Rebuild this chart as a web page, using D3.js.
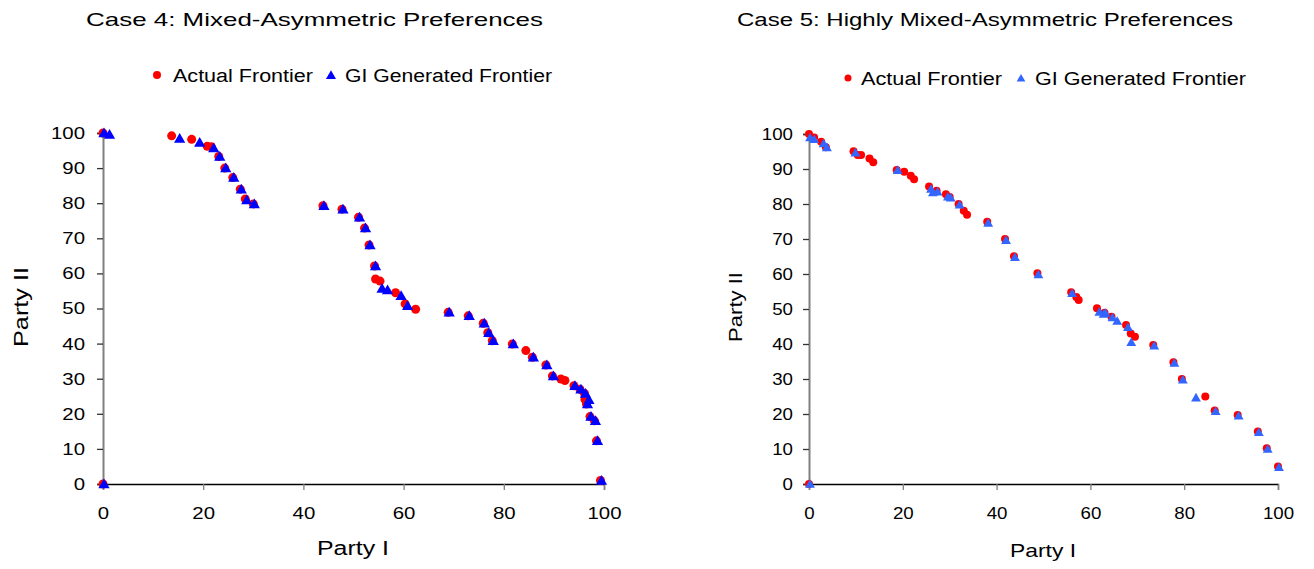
<!DOCTYPE html>
<html><head><meta charset="utf-8">
<script src="https://cdn.jsdelivr.net/npm/d3@7"></script>
<style>
html,body{margin:0;padding:0;background:#fff;}
svg{display:block;font-family:"Liberation Sans",Arial,sans-serif;}
</style></head>
<body><svg id="c" width="1314" height="569"></svg>
<script>
// ---- Data ----
const xTicks = [0, 20, 40, 60, 80, 100];
const yTicks = [0, 10, 20, 30, 40, 50, 60, 70, 80, 90, 100];
const legendLabels = ["Actual Frontier", "GI Generated Frontier"];
const titles = ["Case 4: Mixed-Asymmetric Preferences", "Case 5: Highly Mixed-Asymmetric Preferences"];
const xTitle = "Party I", yTitle = "Party II";

// Case 4 - actual frontier
const case4ActualX = [0,13.7,17.7,20.8,21.6,23.1,24.3,25.9,27.4,28.4,30,43.9,47.7,51,52.2,53.1,54.2,54.4,55.3,58.4,60.3,62.4,68.9,72.9,75.9,76.8,77.7,81.7,84.4,85.7,88.4,89.7,91.4,92.2,94,95.2,96.1,96.2,96.5,97.2,98.1,98.5,99.3,0];
const case4ActualY = [100,99.2,98.2,96.2,96.1,93.3,90,87.3,84,81.2,79.8,79.3,78.3,76,72.9,68.1,62.1,58.4,57.8,54.5,51.3,49.8,48.9,47.9,45.8,43.1,40.8,39.9,38,36.1,33.9,30.8,29.9,29.5,28,27,25.8,24.1,22.8,19.2,18,12.3,1,0];
// Case 4 - GI generated frontier
const case4GIX = [0,1.1,15.1,19.1,21.9,23.1,24.3,25.9,27.4,28.5,30,43.9,47.7,51,52.2,53.1,54.2,55.5,56.6,59.3,60.6,68.9,72.9,75.9,76.8,77.7,81.7,85.7,88.4,89.7,94,95.2,96.1,96.5,96.8,97.2,98.1,98.5,99.3,0];
const case4GIY = [100,99.6,98.4,97.3,95.7,93.3,90,87.3,84,80.9,79.8,79.3,78.3,76,72.9,68.1,62.1,55.7,55.3,53.6,50.8,48.9,47.9,45.8,43.1,40.8,39.9,36.1,33.9,30.8,28,27,25.8,22.8,24,19.2,18,12.3,1,0];

// Case 5 - actual frontier
const case5ActualX = [0,1.1,2.6,3.6,9.5,10.4,11.1,12.9,13.7,18.7,20.3,21.7,22.4,25.6,27.2,29.2,30,31.9,33,33.7,38,41.8,43.7,48.7,55.9,57,57.5,61.4,63,64.5,67.6,68.6,69.5,73.4,77.7,79.5,84.5,86.5,91.4,95.7,97.6,100,0];
const case5ActualY = [100,99,97.8,96.2,95.1,94,94,93,91.9,89.7,89.2,88.1,87.1,85,83.8,82.8,82,80,78.1,76.9,74.9,70,65.1,60.2,54.8,53.4,52.6,50.2,48.9,47.8,45.4,43,42.1,39.7,34.8,30,25,21,19.7,15,10.2,5,0];
// Case 5 - GI generated frontier
const case5GIX = [0,0.9,2.9,3.6,9.7,18.7,25.8,26.2,27.2,29.4,30,31.9,38,41.8,43.7,48.7,55.9,61.7,62.6,63,64.5,65.5,67.8,68.5,73.4,77.7,79.5,82.3,86.5,91.4,95.7,97.6,100,0];
const case5GIY = [99,98.5,97.3,96.2,94.7,89.7,84.3,83.3,83.5,82.1,81.8,79.8,74.6,69.7,64.8,59.9,54.5,49.2,48.6,48.9,47.6,46.6,44.8,40.5,39.5,34.6,29.8,24.7,20.8,19.5,14.8,10,4.8,0];

const svg = d3.select("#c");
const zip = (xs, ys) => xs.map((x, i) => [x, ys[i]]);

function chart(cfg) {
  const x = d3.scaleLinear().domain([0, 100]).range(cfg.xr);
  const y = d3.scaleLinear().domain([0, 100]).range(cfg.yr);
  const g = svg.append("g");
  const sx = cfg.stretch;

  // x axis
  const xa = g.append("g").attr("transform", `translate(0,${y(0)})`)
    .call(d3.axisBottom(x).tickValues(xTicks).tickSize(6).tickPadding(cfg.xPad).tickFormat(d3.format("d")));
  xa.select(".domain").attr("stroke", "#000").attr("stroke-width", 1.3);
  xa.selectAll(".tick line").attr("stroke", "#808080").attr("stroke-width", 1.3);
  xa.selectAll("text").attr("font-size", cfg.tickFont).attr("fill", "#000")
    .attr("font-family", "Liberation Sans, Arial, sans-serif")
    .attr("transform", `scale(${sx},1)`);

  // y axis
  const ya = g.append("g").attr("transform", `translate(${x(0)},0)`)
    .call(d3.axisLeft(y).tickValues(yTicks).tickSize(6).tickPadding(cfg.yPad).tickFormat(d3.format("d")));
  ya.select(".domain").attr("stroke", "#808080").attr("stroke-width", 2);
  ya.selectAll(".tick line").attr("stroke", "#333").attr("stroke-width", 1.3);
  ya.selectAll("text").attr("font-size", cfg.tickFont).attr("fill", "#000")
    .attr("font-family", "Liberation Sans, Arial, sans-serif")
    .attr("x", -(6 + cfg.yPad) / sx)
    .attr("transform", `scale(${sx},1)`);

  // points
  g.append("g").selectAll("circle").data(zip(cfg.ax, cfg.ay)).join("circle")
    .attr("cx", d => x(d[0])).attr("cy", d => y(d[1])).attr("r", cfg.r).attr("fill", "#FF0000");
  const tri = d3.symbol(d3.symbolTriangle, cfg.triSize);
  g.append("g").selectAll("path").data(zip(cfg.gx, cfg.gy)).join("path")
    .attr("d", tri).attr("transform", d => `translate(${x(d[0]) + 1},${y(d[1]) + 1})`).attr("fill", cfg.blue);

  // titles
  const txt = (t, px, py, size, len, anchor, rot) => {
    const e = g.append("text").text(t).attr("font-size", size).attr("fill", "#000")
      .attr("text-anchor", anchor).attr("textLength", len).attr("lengthAdjust", "spacingAndGlyphs");
    e.attr("transform", `translate(${px},${py})` + (rot ? " rotate(-90)" : "")).attr("x", 0).attr("y", 0);
    return e;
  };
  txt(cfg.title, cfg.titlePos[0], cfg.titlePos[1], cfg.titleFont, cfg.titleLen, "start");
  txt(xTitle, cfg.xtPos[0], cfg.xtPos[1], cfg.axFont, cfg.xtLen, "middle");
  txt(yTitle, cfg.ytPos[0], cfg.ytPos[1], cfg.axFont, cfg.ytLen, "middle", true);

  // legend
  const L = cfg.leg;
  g.append("circle").attr("cx", L.dot[0]).attr("cy", L.dot[1]).attr("r", cfg.r - 0.5).attr("fill", "#FF0000");
  g.append("path").attr("d", d3.symbol(d3.symbolTriangle, cfg.triSize * 0.8)).attr("transform", `translate(${L.tri[0]},${L.tri[1]})`).attr("fill", cfg.blue);
  txt(legendLabels[0], L.t1[0], L.t1[1], cfg.legFont, L.t1[2], "start");
  txt(legendLabels[1], L.t2[0], L.t2[1], cfg.legFont, L.t2[2], "start");
}

chart({
  xr: [103, 604], yr: [484, 133], stretch: 1.2, tickFont: 17, xPad: 17, yPad: 12,
  ax: case4ActualX, ay: case4ActualY, gx: case4GIX, gy: case4GIY,
  r: 4.5, triSize: 55, blue: "#0000FF",
  title: titles[0], titlePos: [86, 26], titleFont: 19, titleLen: 457,
  xtPos: [353, 555], xtLen: 72, ytPos: [28, 307], ytLen: 80, axFont: 20,
  legFont: 18,
  leg: { dot: [157, 75], tri: [331, 76], t1: [173, 82, 140], t2: [345, 82, 207] }
});

chart({
  xr: [809, 1278], yr: [484, 134], stretch: 1.1, tickFont: 17, xPad: 17, yPad: 10,
  ax: case5ActualX, ay: case5ActualY, gx: case5GIX, gy: case5GIY,
  r: 4, triSize: 42, blue: "#3366FF",
  title: titles[1], titlePos: [737, 26], titleFont: 18, titleLen: 496,
  xtPos: [1043, 557], xtLen: 66, ytPos: [742, 307], ytLen: 70, axFont: 19,
  legFont: 18,
  leg: { dot: [848, 78], tri: [1021, 79], t1: [861, 85, 141], t2: [1035, 85, 211] }
});
</script></body></html>
